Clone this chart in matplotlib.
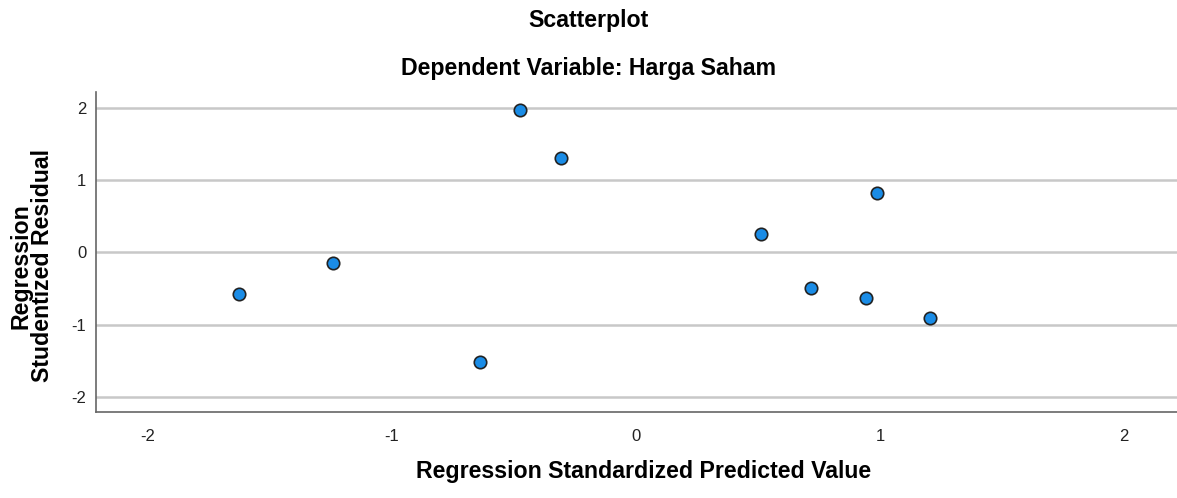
import numpy as np
import matplotlib as mpl
from matplotlib import pyplot as plt

mpl.rcParams.update({
    'font.family': ['Liberation Sans', 'DejaVu Sans'],
    'axes.linewidth': 1.2,
    'axes.unicode_minus': False,
})

# standardized predicted value vs studentized residual
pred = [-1.627, -1.242, -0.639, -0.475, -0.307, 0.512, 0.717, 0.943, 0.988, 1.205]
resid = [-0.583, -0.153, -1.514, 1.97, 1.305, 0.25, -0.5, -0.625, 0.819, -0.903]
ticks = [-2, -1, 0, 1, 2]

fig = plt.figure(figsize=(11.77, 4.98), dpi=100)
ax = fig.add_axes([96/1177, 1 - 412/498, (1177 - 96)/1177, (412 - 92)/498])

for t in ticks:
    ax.axhline(t, color='#c8c8c8', linewidth=1.8, zorder=1)

ax.scatter(pred, resid, s=80, facecolor='#1a8ce6', edgecolor='#222222',
           linewidth=1.2, zorder=3)

ax.set_xlim(-2.213, 2.217)
ax.set_ylim(-2.21, 2.22)
ax.set_xticks(ticks)
ax.set_yticks(ticks)
ax.tick_params(length=0, labelsize=12, colors='#222222', pad=12)
ax.tick_params(axis='y', pad=7)

for side in ['top', 'right']:
    ax.spines[side].set_visible(False)
for side in ['left', 'bottom']:
    ax.spines[side].set_color('#666666')

lab = dict(fontsize=16.7, fontweight='bold')
fig.text(0.5, 1 - 21/498, 'Scatterplot', ha='center', va='center', **lab)
fig.text(0.5, 1 - 68/498, 'Dependent Variable: Harga Saham', ha='center',
         va='center', **lab)
fig.text(644/1177, 1 - 471/498, 'Regression Standardized Predicted Value',
         ha='center', va='center', **lab)
fig.text(32/1177, 1 - 266/498, 'Regression\nStudentized Residual', ha='center',
         va='center', rotation=90, linespacing=0.92, **lab)

fig.savefig('out.png', dpi=100)
